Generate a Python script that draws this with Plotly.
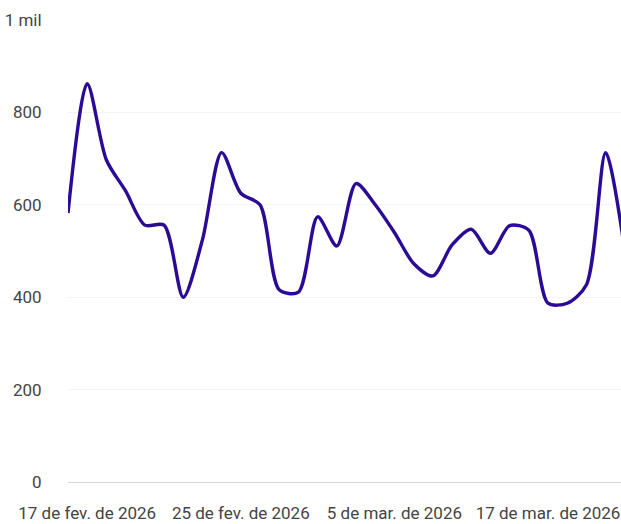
import plotly.graph_objects as go

# one point per day shown (weekends of 7-8 and 14-15 Mar not in the data)
dates = [
    "2026-02-16", "2026-02-17", "2026-02-18", "2026-02-19", "2026-02-20",
    "2026-02-21", "2026-02-22", "2026-02-23", "2026-02-24", "2026-02-25",
    "2026-02-26", "2026-02-27", "2026-02-28", "2026-03-01", "2026-03-02",
    "2026-03-03", "2026-03-04", "2026-03-05", "2026-03-06", "2026-03-09",
    "2026-03-10", "2026-03-11", "2026-03-12", "2026-03-13", "2026-03-16",
    "2026-03-17", "2026-03-18", "2026-03-19", "2026-03-20", "2026-03-23",
]
values = [
    582, 862, 697, 630, 556, 556, 400, 524, 713, 625,
    600, 416, 411, 574, 511, 646, 600, 540, 473, 446,
    513, 547, 495, 555, 545, 387, 387, 427, 713, 500,
]

x_tick_dates = ["2026-02-17", "2026-02-25", "2026-03-05", "2026-03-17"]
x_tick_labels = ["17 de fev. de 2026", "25 de fev. de 2026",
                 "5 de mar. de 2026", "17 de mar. de 2026"]
y_tick_vals = [0, 200, 400, 600, 800, 1000]
y_tick_labels = ["0", "200", "400", "600", "800", "1 mil"]

fig = go.Figure()
fig.add_trace(
    go.Scatter(
        x=dates,
        y=values,
        mode="lines",
        line=dict(color="#2b0a96", width=3.4, shape="spline", smoothing=0.8),
        hoverinfo="skip",
    )
)

fig.update_layout(
    width=621,
    height=524,
    margin=dict(l=68, r=0, t=20, b=42),
    paper_bgcolor="white",
    plot_bgcolor="white",
    showlegend=False,
    font=dict(family="Roboto", size=17, color="#444444"),
    xaxis=dict(
        type="category",
        range=[0, 28.8],
        automargin=False,
        tickmode="array",
        tickvals=x_tick_dates,
        ticktext=x_tick_labels,
        showgrid=False,
        zeroline=False,
        showline=False,
        ticks="outside",
        ticklen=16,
        tickcolor="rgba(0,0,0,0)",
    ),
    yaxis=dict(
        range=[0, 1000],
        automargin=False,
        tickmode="array",
        tickvals=y_tick_vals,
        ticktext=y_tick_labels,
        showgrid=True,
        gridcolor="#f3f3f3",
        gridwidth=1,
        zeroline=True,
        zerolinecolor="#d6d6d6",
        zerolinewidth=1,
        ticks="outside",
        ticklen=22,
        tickcolor="rgba(0,0,0,0)",
    ),
)

# drop the default page margin so the figure fills the window exactly
fig.write_html(
    "out.html",
    config={"displayModeBar": False},
    post_script="document.body.style.margin='0';document.body.style.overflow='hidden';",
)
